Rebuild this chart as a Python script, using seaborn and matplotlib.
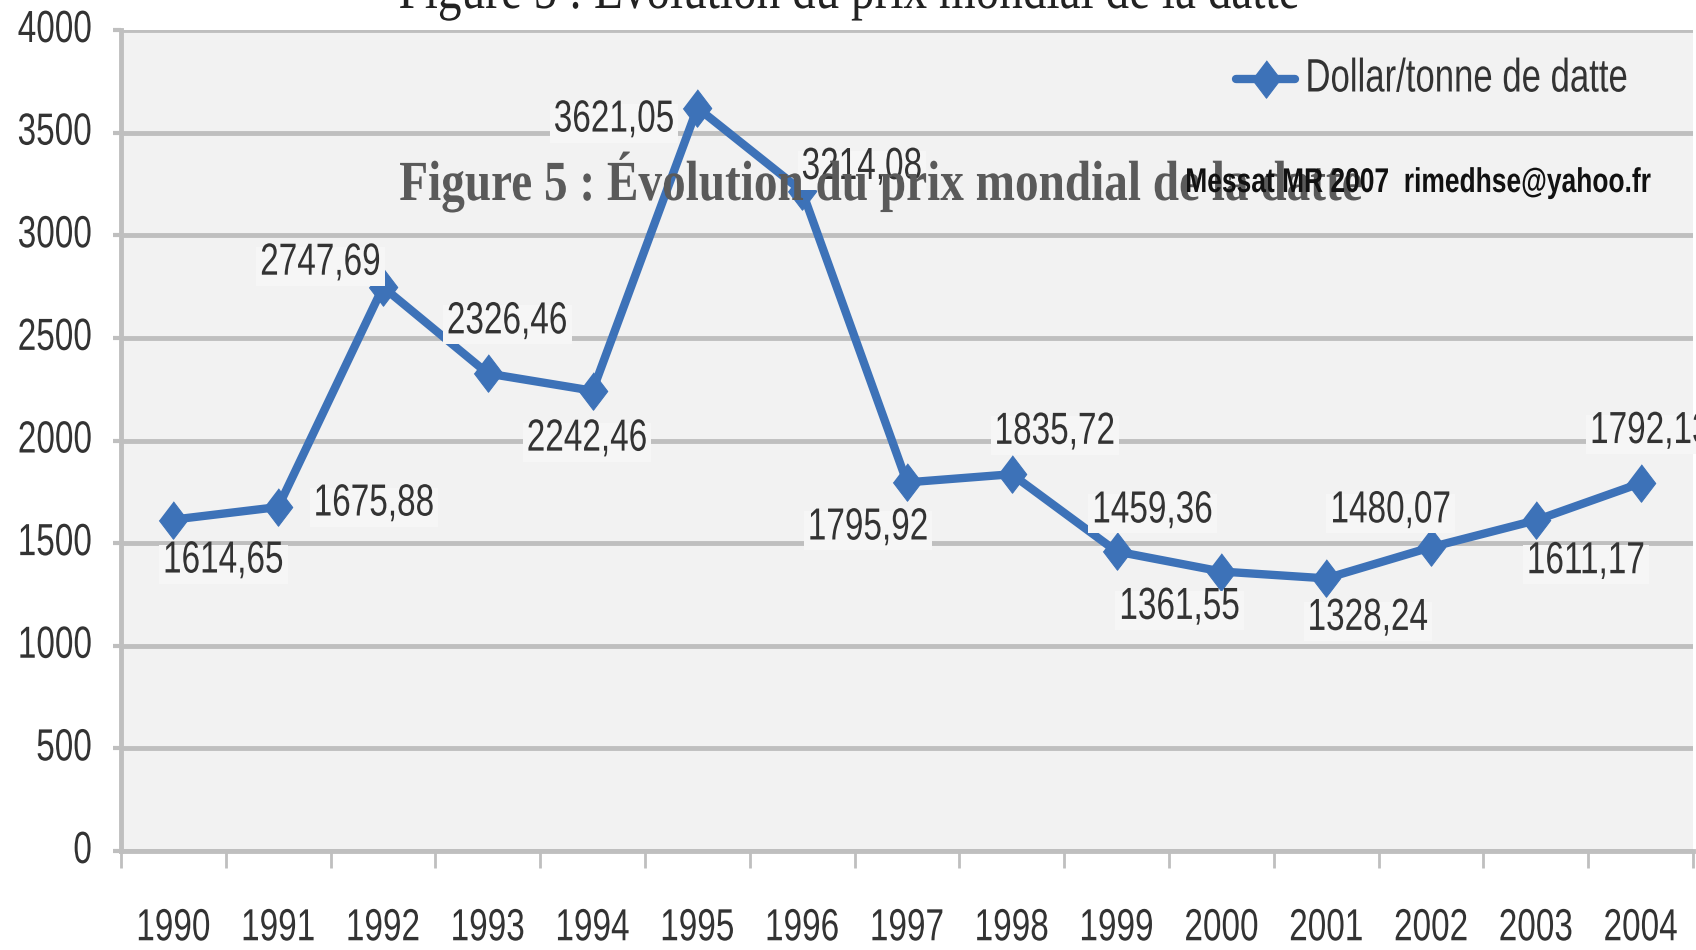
import matplotlib
matplotlib.use("Agg")
import matplotlib.pyplot as plt
from matplotlib import font_manager
from matplotlib.patheffects import AbstractPathEffect
from matplotlib.transforms import Affine2D
import seaborn as sns
import pandas as pd
import numpy as np

# data
years = ['1990', '1991', '1992', '1993', '1994', '1995', '1996', '1997',
         '1998', '1999', '2000', '2001', '2002', '2003', '2004']
prices = [1614.65, 1675.88, 2747.69, 2326.46, 2242.46, 3621.05, 3214.08, 1795.92,
          1835.72, 1459.36, 1361.55, 1328.24, 1480.07, 1611.17, 1792.13]
y_ticks = [0, 500, 1000, 1500, 2000, 2500, 3000, 3500, 4000]
series_name = 'Dollar/tonne de datte'
title = 'Figure 5 : Évolution du prix mondial de la datte'
watermark = 'Messat MR 2007  rimedhse@yahoo.fr'

# label offsets (points) relative to each marker
label_offsets = [(36, -32), (69, 0), (-45, 15), (14, 35), (-4, -37), (-60, -11),
                 (43, 15), (-28, -35), (31, 28), (26, 27), (-30, -28), (30, -31),
                 (-29, 24), (36, -32), (7, 35)]


class VStretch(AbstractPathEffect):
    # the scanned chart is squashed sideways: draw text taller than wide
    def __init__(self, s):
        super().__init__()
        self.s = s

    def draw_path(self, renderer, gc, tpath, affine, rgbFace=None):
        ox, oy = affine.transform((0, 0))
        a = affine + Affine2D().translate(-ox, -oy).scale(1, self.s).translate(ox, oy)
        renderer.draw_path(gc, tpath, a, rgbFace)


sns.set_theme(style='white')

names = {f.name for f in font_manager.fontManager.ttflist}
if 'Liberation Sans Narrow' in names:
    narrow, fs, stretch = 'Liberation Sans Narrow', 30, 1.05
else:
    narrow, fs, stretch = 'Liberation Sans', 24, 1.35
plt.rcParams['font.family'] = [narrow, 'DejaVu Sans']

blue = '#3d72b8'
grid_c = '#bfbfbf'
txt_c = '#333333'
tall = [VStretch(stretch)]

df = pd.DataFrame({'Année': years, series_name: prices})

fig = plt.figure(figsize=(16.96, 9.5), dpi=100)
ax = fig.add_axes([121 / 1696, 99 / 950, 1572 / 1696, 821 / 950])
ax.set_facecolor('#f2f2f2')

diamond = [(0, 1), (0.76, 0), (0, -1), (-0.76, 0)]
sns.lineplot(data=df, x='Année', y=series_name, ax=ax, color=blue, lw=6,
             marker=diamond, markersize=27, markeredgecolor=blue,
             label=series_name, zorder=4, sort=False)

ax.set_xlim(-0.5, len(years) - 0.5)
ax.set_ylim(0, 4000)
ax.set_yticks(y_ticks)
ax.set_yticklabels([str(t) for t in y_ticks])
ax.grid(axis='y', color=grid_c, lw=3.5)
ax.set_axisbelow(True)
ax.set_xlabel('')
ax.set_ylabel('')

# category boundaries as ticks, labels centred between them
ax.set_xticks(np.arange(len(years)))
ax.set_xticklabels(years)
ax.set_xticks(np.arange(-0.5, len(years)), minor=True)
ax.tick_params(axis='x', which='major', length=0, pad=47, labelsize=fs, labelcolor=txt_c)
ax.tick_params(axis='x', which='minor', length=12, width=2, color=grid_c, direction='out', bottom=True)
ax.tick_params(axis='y', length=6, width=3, color=grid_c, pad=15, labelsize=fs,
               labelcolor=txt_c, left=True)
for lab in ax.get_xticklabels() + ax.get_yticklabels():
    lab.set_path_effects(tall)

for s in ['top', 'right']:
    ax.spines[s].set_visible(False)
for s in ['left', 'bottom']:
    ax.spines[s].set_color(grid_c)
    ax.spines[s].set_linewidth(3.5)

for i, (v, off) in enumerate(zip(prices, label_offsets)):
    ax.annotate(f'{v:.2f}'.replace('.', ','), (i, v), xytext=off,
                textcoords='offset points', ha='center', va='center',
                fontsize=fs, color=txt_c, zorder=5, path_effects=tall,
                bbox=dict(boxstyle='square,pad=0.12', fc='#f6f6f6', ec='none'))

leg = ax.legend(loc='center left', bbox_to_anchor=(1236 / 1696, 1 - 82 / 950),
                bbox_transform=fig.transFigure, frameon=False, fontsize=fs + 1,
                borderpad=0, borderaxespad=0, handlelength=1.7, handletextpad=0.3)
for t in leg.get_texts():
    t.set_color(txt_c)
    t.set_path_effects(tall)

# cropped original caption at the very top, and the pasted caption over the plot
fig.text(0.501, 1 - 8 / 950, title, ha='center', va='baseline',
         family='Liberation Serif', fontsize=34, color='#222222',
         path_effects=[VStretch(1.25)])
fig.text(881 / 1696, 1 - 200 / 950, title, ha='center', va='baseline',
         family='Liberation Serif', fontweight='bold', fontsize=34, color='#5a5a5a',
         path_effects=[VStretch(1.2)])
fig.text(1418 / 1696, 1 - 192 / 950, watermark, ha='center', va='baseline',
         family=[narrow, 'DejaVu Sans'], fontweight='bold', fontsize=19, color='#111111',
         path_effects=[VStretch(1.3)])

fig.savefig('out.png', dpi=100)
